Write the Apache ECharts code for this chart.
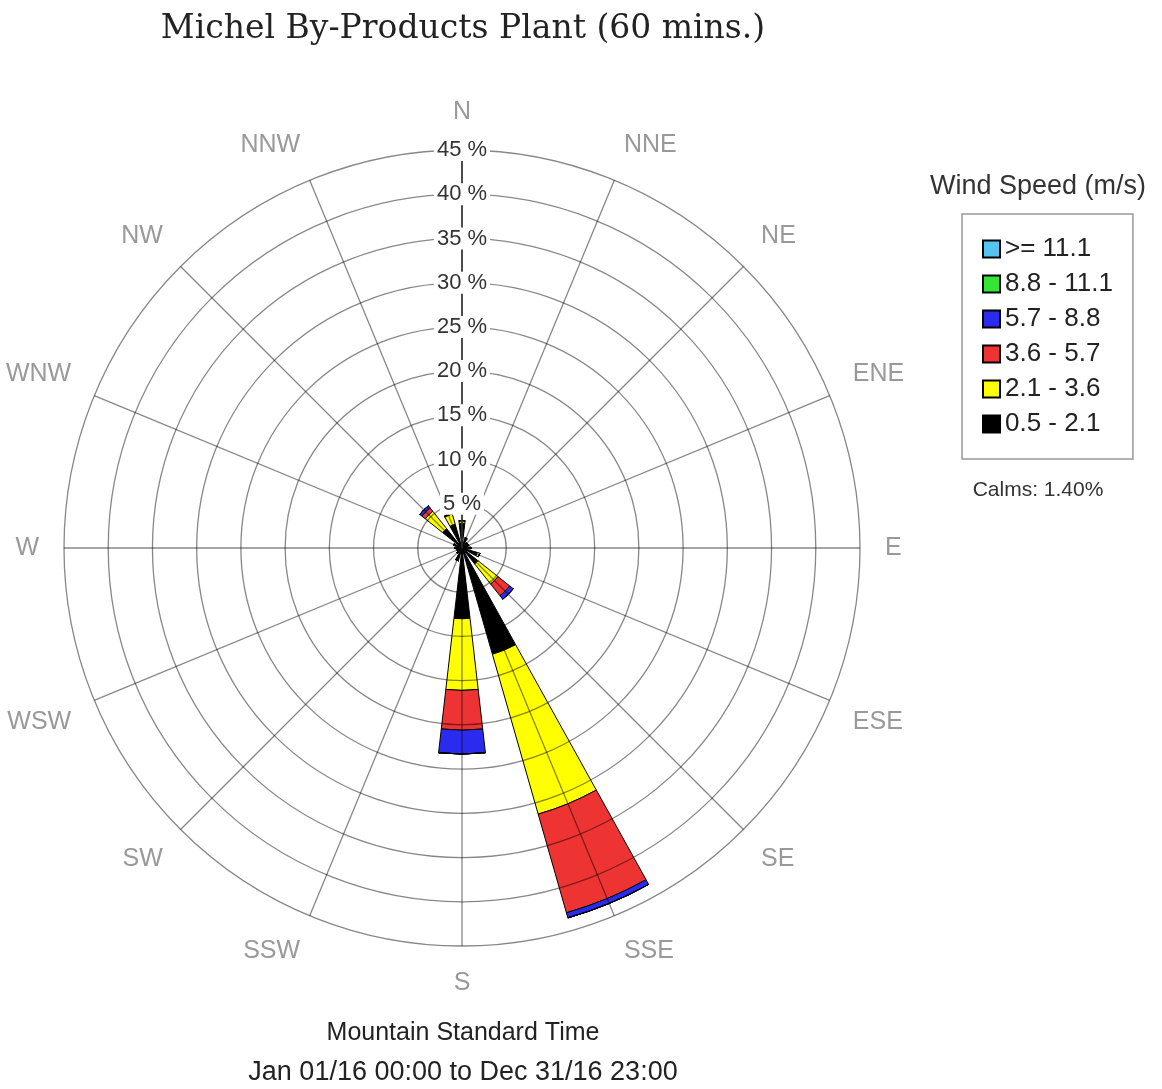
<!DOCTYPE html>
<html>
<head>
<meta charset="utf-8">
<title>Michel By-Products Plant wind rose</title>
<script src="https://cdn.jsdelivr.net/npm/echarts@6/dist/echarts.min.js"></script>
<style>
  html, body { margin: 0; padding: 0; background: #fff; }
  #chart { width: 1162px; height: 1089px; }
</style>
</head>
<body>
<div id="chart"></div>
<script>
// direction sectors, clockwise from north
var directions = ['N', 'NNE', 'NE', 'ENE', 'E', 'ESE', 'SE', 'SSE', 'S', 'SSW', 'SW', 'WSW', 'W', 'WNW', 'NW', 'NNW'];

// wind speed classes (m/s), inner to outer
var speedBins = ['0.5 - 2.1', '2.1 - 3.6', '3.6 - 5.7', '5.7 - 8.8', '8.8 - 11.1', '>= 11.1'];
var binColors = ['#000000', '#ffff00', '#ee3333', '#2b2bef', '#33e633', '#55c4ee'];

// frequency (%) per direction for each speed class
var speed05to21 = [2.8, 1.2, 0.8, 0.8, 1.0, 1.8, 2.3, 12.5, 8.0, 1.5, 0.8, 0.6, 0.8, 1.0, 2.8, 2.8];
var speed21to36 = [0.3, 0, 0, 0, 0, 0.3, 2.9, 18.8, 8.1, 0, 0, 0, 0, 0, 2.5, 1.2];
var speed36to57 = [0, 0, 0, 0, 0, 0, 1.7, 11.6, 4.5, 0, 0, 0, 0, 0, 0.5, 0.1];
var speed57to88 = [0, 0, 0, 0, 0, 0, 0.5, 0.6, 2.7, 0, 0, 0, 0, 0, 0.3, 0];
var speed88to111 = [0, 0, 0, 0, 0, 0, 0, 0, 0, 0, 0, 0, 0, 0, 0, 0];
var speedOver111 = [0, 0, 0, 0, 0, 0, 0, 0, 0, 0, 0, 0, 0, 0, 0, 0];

var calms = '1.40%';

var seriesValues = [speed05to21, speed21to36, speed36to57, speed57to88, speed88to111, speedOver111];

var center = [462, 548];
var radius = 398;
var gridLine = 'rgba(0,0,0,0.47)';
var sans = '"Liberation Sans", Arial, sans-serif';

var series = [];
for (var i = 0; i < speedBins.length; i++) {
  series.push({
    name: speedBins[i],
    type: 'bar',
    coordinateSystem: 'polar',
    polarIndex: 0,
    stack: 'wind',
    barCategoryGap: '42%',
    z: 2,
    itemStyle: { color: binColors[i], borderColor: '#000', borderWidth: 1 },
    data: seriesValues[i]
  });
}

var chart = echarts.init(document.getElementById('chart'));

var option = {
  animation: false,
  polar: [
    { center: center, radius: radius },
    { center: center, radius: radius },
    { center: center, radius: radius }
  ],
  // polar 0 holds the bars, centred on each direction
  angleAxis: [{
    polarIndex: 0,
    type: 'category',
    data: directions,
    startAngle: 90 + 180 / directions.length,
    clockwise: true,
    show: false
  }, {
    // polar 1 draws the spokes and direction names on top of the bars
    polarIndex: 1,
    type: 'value',
    min: 0,
    max: 360,
    interval: 22.5,
    startAngle: 90,
    clockwise: true,
    z: 3,
    axisLine: { show: false },
    axisTick: { show: false },
    axisLabel: {
      margin: 25,
      color: '#999',
      fontSize: 25,
      fontFamily: sans,
      formatter: function (v) { return directions[Math.round(v / 22.5) % 16]; }
    },
    splitLine: { show: true, lineStyle: { color: gridLine, width: 1.3 } }
  }, {
    polarIndex: 2,
    type: 'value',
    min: 0,
    max: 360,
    startAngle: 90,
    show: false
  }],
  radiusAxis: [{
    polarIndex: 0,
    type: 'value',
    min: 0,
    max: 45,
    show: false
  }, {
    polarIndex: 1,
    type: 'value',
    min: 0,
    max: 45,
    interval: 5,
    z: 3,
    axisLine: { show: false },
    axisTick: { show: false },
    axisLabel: { show: false },
    splitLine: { show: true, lineStyle: { color: gridLine, width: 1.3 } }
  }, {
    // polar 2: the percentage scale on the north spoke
    polarIndex: 2,
    type: 'value',
    min: 0,
    max: 45,
    interval: 5,
    z: 4,
    axisLine: { show: true, lineStyle: { color: '#333', width: 1.6 } },
    axisTick: { show: false },
    splitLine: { show: false },
    axisLabel: {
      margin: 0,
      align: 'center',
      verticalAlign: 'middle',
      color: '#333',
      fontSize: 22,
      fontFamily: sans,
      backgroundColor: '#fff',
      padding: [0, 3],
      formatter: function (v) { return v === 0 ? '' : v + ' %'; }
    }
  }],
  legend: {
    orient: 'vertical',
    left: 962,
    top: 214,
    padding: [22, 20, 22, 20],
    borderColor: '#999',
    borderWidth: 1.5,
    itemWidth: 17,
    itemHeight: 17,
    itemGap: 9,
    icon: 'rect',
    selectedMode: false,
    textStyle: { fontSize: 26, color: '#222', fontFamily: sans },
    data: speedBins.slice().reverse()
  },
  graphic: [{
    type: 'text',
    x: 463,
    y: 29,
    style: {
      text: 'Michel By-Products Plant (60 mins.)',
      fill: '#222',
      font: '33px "DejaVu Serif", serif',
      align: 'center',
      verticalAlign: 'middle'
    }
  }, {
    type: 'text',
    x: 1038,
    y: 187,
    style: {
      text: 'Wind Speed (m/s)',
      fill: '#333',
      font: '27px ' + sans,
      align: 'center',
      verticalAlign: 'middle'
    }
  }, {
    type: 'text',
    x: 1038,
    y: 490,
    style: {
      text: 'Calms: ' + calms,
      fill: '#333',
      font: '21px ' + sans,
      align: 'center',
      verticalAlign: 'middle'
    }
  }, {
    type: 'text',
    x: 463,
    y: 1033,
    style: {
      text: 'Mountain Standard Time',
      fill: '#222',
      font: '25px ' + sans,
      align: 'center',
      verticalAlign: 'middle'
    }
  }, {
    type: 'text',
    x: 463,
    y: 1073,
    style: {
      text: 'Jan 01/16 00:00 to Dec 31/16 23:00',
      fill: '#222',
      font: '27px ' + sans,
      align: 'center',
      verticalAlign: 'middle'
    }
  }],
  series: series
};

chart.setOption(option);
</script>
</body>
</html>
